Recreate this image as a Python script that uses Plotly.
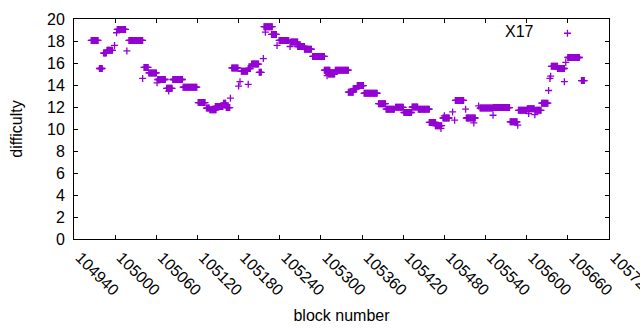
import plotly.graph_objects as go

# Runs of consecutive blocks sharing the same difficulty
seg_start = [104965, 104977, 104983, 104988, 104999, 105002, 105003, 105017, 105020, 105040,
             105042, 105049, 105061, 105062, 105075, 105078, 105084, 105099, 105121, 105133,
             105138, 105146, 105158, 105162, 105168, 105170, 105180, 105182, 105184, 105194,
             105194, 105199, 105210, 105216, 105217, 105219, 105228, 105236, 105239, 105255,
             105256, 105266, 105276, 105288, 105305, 105309, 105311, 105321, 105340, 105347,
             105353, 105363, 105384, 105395, 105409, 105421, 105433, 105442, 105458, 105467,
             105475, 105478, 105480, 105492, 105495, 105496, 105511, 105512, 105523, 105530,
             105532, 105551, 105552, 105576, 105587, 105588, 105601, 105603, 105612, 105613,
             105622, 105632, 105634, 105635, 105636, 105645, 105655, 105657, 105660, 105680]
seg_end = [104975, 104981, 104987, 104996, 104999, 105002, 105015, 105017, 105040, 105040,
           105048, 105060, 105061, 105073, 105083, 105078, 105098, 105119, 105131, 105137,
           105147, 105157, 105161, 105167, 105168, 105179, 105180, 105182, 105193, 105197,
           105194, 105209, 105213, 105216, 105229, 105219, 105235, 105236, 105253, 105255,
           105266, 105276, 105286, 105305, 105313, 105309, 105320, 105340, 105347, 105352,
           105362, 105382, 105394, 105407, 105420, 105432, 105441, 105458, 105467, 105476,
           105475, 105487, 105480, 105492, 105495, 105508, 105511, 105525, 105523, 105530,
           105551, 105551, 105575, 105586, 105587, 105600, 105611, 105603, 105612, 105621,
           105631, 105632, 105634, 105635, 105645, 105655, 105655, 105657, 105677, 105684]
seg_diff = [18.05, 15.5, 16.9, 17.15, 17.6, 18.75, 19.05, 17.1, 18.05, 14.6,
            15.6, 15.1, 14.2, 14.5, 13.7, 13.45, 14.5, 13.8, 12.4, 11.9,
            11.75, 12.05, 12.35, 11.95, 12.8, 15.55, 13.9, 14.3, 15.25, 15.5,
            14.06, 15.9, 15.15, 16.4, 19.3, 18.8, 18.6, 17.6, 18.05, 17.5,
            17.9, 17.5, 17.25, 16.6, 15.35, 14.85, 15.0, 15.35, 13.35, 13.65,
            13.95, 13.25, 12.3, 11.8, 11.97, 11.5, 12.0, 11.8, 10.6, 10.3,
            10.05, 11.0, 11.2, 11.55, 10.8, 12.6, 11.8, 11.0, 10.55, 12.1,
            11.9, 11.25, 11.95, 10.65, 10.35, 11.7, 11.85, 11.4, 11.3, 11.7,
            12.35, 13.5, 14.6, 14.8, 15.7, 15.5, 14.3, 16.05, 16.5, 14.4]

x_ticks = [104940, 105000, 105060, 105120, 105180, 105240, 105300, 105360,
           105420, 105480, 105540, 105600, 105660, 105720]
y_ticks = [0, 2, 4, 6, 8, 10, 12, 14, 16, 18, 20]

blocks, diffs = [], []
for s, e, d in zip(seg_start, seg_end, seg_diff):
    for b in range(s, e + 1):
        blocks.append(b)
        diffs.append(d)

PURPLE = "#9400D3"
FONT = "Liberation Sans"
FS = 16

fig = go.Figure()
fig.add_trace(go.Scatter(
    x=blocks, y=diffs, mode="markers", name="",
    marker=dict(symbol="cross-thin", size=5, color=PURPLE,
                line=dict(color=PURPLE, width=1.3)),
    showlegend=True,
))

axis_common = dict(showline=True, linecolor="black", linewidth=1, mirror="ticks",
                   ticks="inside", ticklen=4, tickcolor="black", tickwidth=1,
                   showgrid=False, zeroline=False, ticklabeloverflow="allow",
                   tickfont=dict(family=FONT, size=FS, color="black"))

fig.update_layout(
    width=640, height=330,
    margin=dict(l=74, r=31, t=19, b=91, autoexpand=False),
    paper_bgcolor="white", plot_bgcolor="white",
    font=dict(family=FONT, size=FS, color="black"),
    xaxis=dict(range=[104939.9, 105720.1], tickvals=x_ticks,
               ticktext=[str(v) for v in x_ticks], tickangle=45,
               ticklabelstandoff=2, ticklabelshift=6,
               title=dict(text="block number", standoff=11,
                          font=dict(family=FONT, size=FS)),
               **axis_common),
    yaxis=dict(range=[0, 20], tickvals=y_ticks, ticklabelstandoff=5,
               title=dict(text="difficulty", standoff=20,
                          font=dict(family=FONT, size=FS)),
               **axis_common),
    legend=dict(x=0.885, y=1.012, xanchor="left", yanchor="top",
                bgcolor="rgba(0,0,0,0)", borderwidth=0,
                font=dict(family=FONT, size=FS)),
    annotations=[dict(text="X17", xref="paper", yref="paper",
                      x=(536 - 74) / 535, y=(239 - 31) / 220,
                      xanchor="right", yanchor="middle", showarrow=False,
                      font=dict(family=FONT, size=FS, color="black"))],
)

fig.write_html("out.html", config={"displayModeBar": False},
               post_script="document.body.style.margin='0';")
